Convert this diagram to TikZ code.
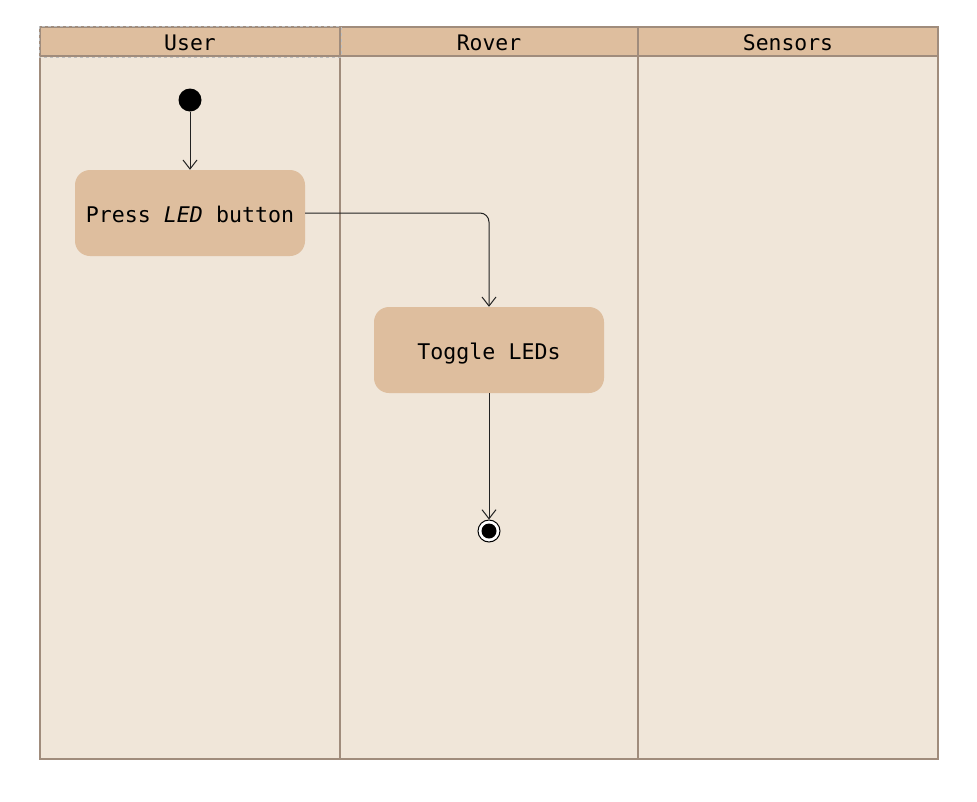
\documentclass[tikz,border=0pt]{standalone}
\usepackage{fontspec}
\setmonofont{DejaVu Sans Mono}
\usetikzlibrary{arrows.meta}
\definecolor{hdr}{HTML}{DEBE9E}
\definecolor{lane}{HTML}{F0E6D9}
\definecolor{bord}{HTML}{A08C7C}
\definecolor{wire}{HTML}{222222}
\tikzset{
  lanebox/.style={draw=bord, line width=2pt, fill=lane},
  hdrbox/.style={draw=bord, line width=2pt, fill=hdr, minimum height=29pt, inner sep=0pt, text height=18pt, text depth=1pt, font=\ttfamily\fontsize{21.4}{24}\selectfont},
  action/.style={fill=hdr, rounded corners=15pt, minimum width=230pt, minimum height=86pt, inner sep=0pt, text height=22pt, text depth=3pt, font=\ttfamily\fontsize{21.6}{24}\selectfont},
  startnode/.style={circle, fill=black, minimum size=23pt, inner sep=0pt},
  endnode/.style={circle, draw=black, line width=1pt, fill=white, minimum size=22pt, inner sep=0pt, path picture={\fill[black] (path picture bounding box.center) circle (7.5pt);}},
  flow/.style={draw=wire, line width=1pt, -{Straight Barb[length=9pt,width=14pt,line width=1pt]}},
}
\begin{document}
\begin{tikzpicture}[x=1pt,y=-1pt]
\useasboundingbox (0,0) rectangle (977,801);
% lanes
\draw[lanebox] (40,56) rectangle (340,759);
\draw[lanebox] (340,56) rectangle (638,759);
\draw[lanebox] (638,56) rectangle (938,759);
\node[hdrbox, minimum width=300pt] (hu) at (190,41.5) {User};
\node[hdrbox, minimum width=298pt] (hr) at (489,41.5) {Rover};
\node[hdrbox, minimum width=300pt] (hs) at (788,41.5) {Sensors};
\draw[gray!50, dashed, line width=0.6pt] (39,26) rectangle (341,57);
% nodes
\node[startnode] (start) at (190,100) {};
\node[action] (press) at (190,213) {Press \textit{LED} button};
\node[action] (toggle) at (489,350) {Toggle LEDs};
\node[endnode] (end) at (489,531) {};
% connectors
\draw[flow] (start) -- (press.north);
\draw[flow, rounded corners=9pt] (press.east) -| (toggle.north);
\draw[flow] (toggle.south) -- (end.north);
\end{tikzpicture}
\end{document}
